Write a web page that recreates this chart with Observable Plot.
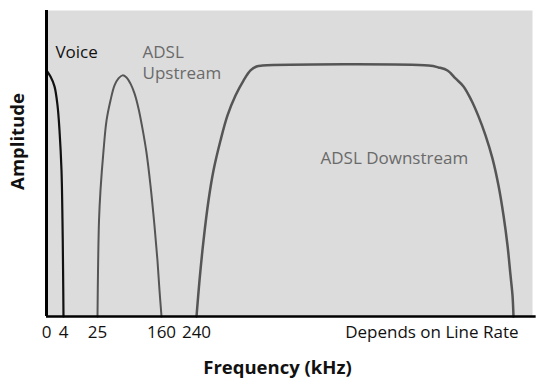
<!DOCTYPE html>
<html>
<head>
<meta charset="utf-8">
<script src="https://cdn.jsdelivr.net/npm/d3@7"></script>
<script src="https://cdn.jsdelivr.net/npm/@observablehq/plot@0.6"></script>
<style>
  html, body { margin: 0; padding: 0; background: #fff; }
  #chart svg { display: block; }
</style>
</head>
<body>
<div id="chart"></div>
<script>
// Frequency ticks (kHz); the last one stands for the line-rate-dependent upper edge
const tickValues = [0, 4, 25, 160, 240];
const tickLabels = ["0", "4", "25", "160", "240"];
const lastTick = 1104;
const lastTickLabel = "Depends on Line Rate";

// Voice band: frequency (kHz), amplitude (relative, 0-100)
const voiceFreq = [0, 0.94, 1.88, 2.59, 3.06, 3.53, 3.76, 3.9, 4.0];
const voiceAmp  = [80.4, 78.4, 75.2, 69, 60.8, 47.7, 31.4, 15, 0];

// ADSL upstream band
const upFreq = [25, 26.1, 28.2, 31.3, 37.7, 44, 52.4, 60.9, 69.3, 77.7, 86.2, 94.6, 103, 111.5, 119.9, 128.3, 136.8, 145.2, 151.5, 155.8, 160];
const upAmp  = [0, 15, 31.4, 41.2, 54.2, 64, 70.6, 75.5, 77.8, 78.8, 78.1, 76.1, 72.9, 68, 61.4, 53.6, 42.8, 29.7, 18.3, 8.5, 0];

// ADSL downstream band
const downFreq = [240, 248.2, 259.1, 272.7, 286.3, 305.4, 324.5, 346.3, 368.1, 387.2, 403.5, 419.9, 872.3, 899.6, 924.1, 945.9, 967.7, 989.5, 1008.6, 1027.7, 1046.8, 1063.1, 1076.8, 1087.7, 1095.9, 1101.3, 1104];
const downAmp  = [0, 11.8, 24.8, 37.9, 47.7, 57.5, 65.7, 72.2, 77.1, 80.4, 81.7, 82, 82, 81.4, 80.4, 77.8, 75.2, 70.6, 65.4, 59.2, 51.6, 42.8, 33, 23.2, 13.4, 6.9, 0];

// Band labels
const labelText = ["Voice", "ADSL", "Upstream", "ADSL Downstream"];
const labelFreq = [2.1, 119.9, 119.9, 578];
const labelAmp  = [86.3, 86.3, 79.4, 51.6];
const labelColor = ["#111", "#6a6a6a", "#6a6a6a", "#6a6a6a"];

const toPts = (xs, ys) => xs.map((x, i) => ({x, y: ys[i]}));
const voice = toPts(voiceFreq, voiceAmp);
const up = toPts(upFreq, upAmp);
const down = toPts(downFreq, downAmp);
const labels = labelText.map((t, i) => ({t, x: labelFreq[i], y: labelAmp[i], c: labelColor[i]}));

const font = "'Open Sans', sans-serif";

const chart = Plot.plot({
  width: 547,
  height: 392,
  marginLeft: 46,
  marginRight: 15,
  marginTop: 10,
  marginBottom: 76,
  style: {fontFamily: font, fontSize: "17px", background: "#fff", color: "#111"},
  x: {type: "linear", domain: [0, 4, 25, 160, 240, 1104, 1156], range: [46, 63, 97, 161, 196, 513, 532], axis: null},
  y: {domain: [0, 100], axis: null},
  marks: [
    Plot.frame({fill: "#dcdcdc", stroke: null}),
    Plot.line(voice, {x: "x", y: "y", stroke: "#111", strokeWidth: 2.2, curve: "catmull-rom"}),
    Plot.line(up, {x: "x", y: "y", stroke: "#555", strokeWidth: 2, curve: "catmull-rom"}),
    Plot.line(down, {x: "x", y: "y", stroke: "#555", strokeWidth: 2.5, curve: "catmull-rom"}),
    Plot.ruleX([0], {stroke: "#000", strokeWidth: 3}),
    Plot.ruleY([0], {stroke: "#000", strokeWidth: 2.5, x1: 0, x2: 1166}),
    Plot.text(labels, {x: "x", y: "y", text: "t", fill: "c", textAnchor: "start", fontSize: 17}),
    Plot.text(tickValues.map((v, i) => ({v, l: tickLabels[i]})), {x: "v", text: "l", frameAnchor: "bottom", dy: 21, fill: "#111", fontSize: 17}),
    Plot.text([{v: lastTick, l: lastTickLabel}], {x: "v", text: "l", frameAnchor: "bottom", dy: 21, dx: 5, textAnchor: "end", fill: "#111", fontSize: 17}),
    Plot.text(["Frequency (kHz)"], {frameAnchor: "bottom", dy: 57, dx: -12, fontWeight: "bold", fontSize: 18.5, fill: "#111"}),
    Plot.text(["Amplitude"], {frameAnchor: "left", dx: -28, dy: -22, textAnchor: "middle", rotate: -90, fontWeight: "bold", fontSize: 18.5, fill: "#111"})
  ]
});
document.getElementById("chart").appendChild(chart);
</script>
</body>
</html>
